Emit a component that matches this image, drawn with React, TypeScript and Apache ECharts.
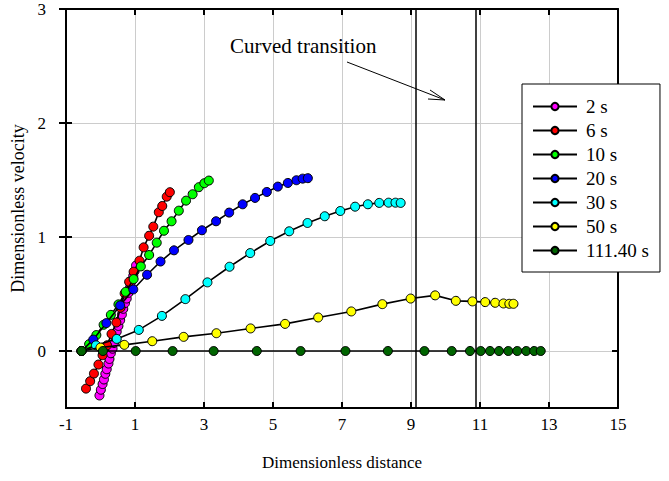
import React, { useEffect, useRef } from "react";
import * as echarts from "echarts";

const xTicks = [-1, 1, 3, 5, 7, 9, 11, 13, 15];
const yTicks = [0, 1, 2, 3];
const transitionLines = [9.13, 10.88];

const seriesNames = ["2 s", "6 s", "10 s", "20 s", "30 s", "50 s", "111.40 s"];
const seriesColors = ["#ff00ff", "#ff0000", "#00ff00", "#0000ff", "#00ffff", "#ffff00", "#006400"];

const s2: [number, number][] = [
  [-0.03, -0.39], [0.01, -0.34], [0.06, -0.29], [0.1, -0.25], [0.14, -0.2], [0.18, -0.16],
  [0.23, -0.11], [0.26, -0.07], [0.3, -0.02], [0.35, 0.02], [0.39, 0.07], [0.43, 0.12],
  [0.47, 0.17], [0.52, 0.22], [0.57, 0.27], [0.62, 0.32], [0.66, 0.37], [0.71, 0.42],
  [0.76, 0.46], [0.81, 0.51], [0.86, 0.56], [0.9, 0.61], [0.95, 0.66], [0.99, 0.7], [1.03, 0.75],
];
const s6: [number, number][] = [
  [-0.42, -0.33], [-0.3, -0.265], [-0.19, -0.198], [-0.06, -0.119], [0.06, -0.037], [0.19, 0.05],
  [0.32, 0.15], [0.46, 0.25], [0.58, 0.38], [0.7, 0.505], [0.83, 0.607], [0.96, 0.695],
  [1.13, 0.792], [1.25, 0.909], [1.41, 1.011], [1.53, 1.091], [1.69, 1.217], [1.79, 1.272],
  [1.92, 1.354], [2.01, 1.393],
];
const s10: [number, number][] = [
  [-0.55, 0], [-0.33, 0.06], [-0.12, 0.14], [0.09, 0.23], [0.3, 0.317], [0.52, 0.409],
  [0.73, 0.519], [0.96, 0.631], [1.17, 0.742], [1.41, 0.842], [1.63, 0.95], [1.84, 1.055],
  [2.06, 1.138], [2.27, 1.231], [2.48, 1.319], [2.67, 1.375], [2.85, 1.437], [3.01, 1.472],
  [3.14, 1.495],
];
const s20: [number, number][] = [
  [-0.55, 0], [-0.21, 0.1], [0.17, 0.245], [0.57, 0.4], [0.95, 0.54], [1.35, 0.669],
  [1.74, 0.785], [2.13, 0.883], [2.55, 0.974], [2.94, 1.059], [3.35, 1.138], [3.73, 1.214],
  [4.12, 1.287], [4.48, 1.343], [4.82, 1.395], [5.14, 1.442], [5.43, 1.474], [5.68, 1.498],
  [5.86, 1.512], [6.01, 1.516],
];
const s30: [number, number][] = [
  [-0.55, 0], [-0.13, 0.05], [0.47, 0.106], [1.11, 0.185], [1.78, 0.308], [2.46, 0.455],
  [3.1, 0.602], [3.74, 0.739], [4.34, 0.859], [4.92, 0.965], [5.47, 1.05], [6.0, 1.123],
  [6.5, 1.182], [6.95, 1.228], [7.38, 1.266], [7.75, 1.287], [8.08, 1.299], [8.35, 1.301],
  [8.55, 1.301], [8.7, 1.299],
];
const s50: [number, number][] = [
  [-0.55, 0], [0.0, 0.03], [0.69, 0.054], [1.5, 0.086], [2.41, 0.124], [3.36, 0.156],
  [4.35, 0.198], [5.35, 0.238], [6.31, 0.294], [7.27, 0.347], [8.17, 0.411], [8.99, 0.46],
  [9.7, 0.488], [10.3, 0.44], [10.78, 0.435], [11.15, 0.429], [11.44, 0.423], [11.68, 0.417],
  [11.85, 0.414], [11.97, 0.414],
];
const s111: [number, number][] = [
  [-0.55, 0], [0.07, 0], [1.02, 0], [2.09, 0], [3.28, 0], [4.53, 0], [5.8, 0], [7.1, 0],
  [8.33, 0], [9.39, 0], [10.18, 0], [10.71, 0], [11.02, 0], [11.29, 0], [11.55, 0],
  [11.82, 0], [12.08, 0], [12.34, 0], [12.57, 0], [12.76, 0],
];
const seriesData = [s2, s6, s10, s20, s30, s50, s111];

const FONT = "'Liberation Serif', 'Times New Roman', 'DejaVu Serif', serif";

export default function App() {
  const ref = useRef<HTMLDivElement>(null);
  useEffect(() => {
    if (!ref.current) return;
    const chart = echarts.init(ref.current, undefined, { renderer: "svg" });
    const series: any[] = seriesData.map((d, i) => ({
      name: seriesNames[i],
      type: "line",
      data: d,
      symbol: "circle",
      symbolSize: 9,
      showSymbol: true,
      lineStyle: { color: "#000", width: 1.6 },
      itemStyle: { color: seriesColors[i], borderColor: "#000", borderWidth: 1 },
      emphasis: { disabled: true },
      z: 3 + i,
    }));
    series.push({
      type: "line",
      data: [],
      silent: true,
      markLine: {
        silent: true,
        symbol: ["none", "none"],
        label: { show: false },
        lineStyle: { color: "#000", width: 1.5, type: "solid" },
        data: transitionLines.map((v) => ({ xAxis: v })),
      },
    });
    const baseX = {
      type: "value",
      min: -1,
      max: 15,
      axisLine: { show: true, onZero: false, lineStyle: { color: "#000", width: 2 } },
      splitLine: { show: false },
    };
    const baseY = {
      type: "value",
      min: -0.5,
      max: 3,
      axisLine: { show: true, onZero: false, lineStyle: { color: "#000", width: 2 } },
      splitLine: { show: false },
    };
    chart.setOption({
      animation: false,
      backgroundColor: "#fff",
      textStyle: { fontFamily: FONT },
      grid: { left: 66, right: 51, top: 9, bottom: 73, containLabel: false },
      xAxis: [
        {
          ...baseX,
          position: "bottom",
          name: "Dimensionless distance",
          nameLocation: "middle",
          nameGap: 46,
          nameTextStyle: { fontFamily: FONT, fontSize: 17, color: "#000" },
          axisTick: { show: true, inside: true, length: 6, customValues: xTicks, lineStyle: { color: "#000", width: 2 } },
          axisLabel: { show: true, customValues: xTicks, fontFamily: FONT, fontSize: 17, color: "#000", margin: 8 },
          splitLine: { show: true, lineStyle: { color: "#cccccc", width: 1 } },
        },
        {
          ...baseX,
          position: "top",
          axisTick: { show: true, inside: true, length: 6, customValues: xTicks, lineStyle: { color: "#000", width: 2 } },
          axisLabel: { show: false },
        },
      ],
      yAxis: [
        {
          ...baseY,
          position: "left",
          name: "Dimensionless velocity",
          nameLocation: "middle",
          nameGap: 36,
          nameTextStyle: { fontFamily: FONT, fontSize: 18, color: "#000" },
          axisTick: { show: true, inside: false, length: 7, customValues: yTicks, lineStyle: { color: "#000", width: 2 } },
          axisLabel: { show: true, customValues: yTicks, fontFamily: FONT, fontSize: 17, color: "#000", margin: 20 },
          splitLine: { show: true, lineStyle: { color: "#cccccc", width: 1 } },
        },
        {
          ...baseY,
          position: "right",
          axisTick: { show: true, inside: true, length: 6, customValues: yTicks, lineStyle: { color: "#000", width: 2 } },
          axisLabel: { show: false },
        },
        {
          ...baseY,
          position: "left",
          axisTick: { show: true, inside: true, length: 6, customValues: yTicks, lineStyle: { color: "#000", width: 2 } },
          axisLabel: { show: false },
        },
      ],
      legend: {
        orient: "vertical",
        left: 522,
        top: 84,
        data: seriesNames,
        itemWidth: 44,
        itemHeight: 9,
        itemGap: 5,
        padding: [13, 11, 12, 10],
        backgroundColor: "#fff",
        borderColor: "#000",
        borderWidth: 1,
        selectedMode: false,
        textStyle: { fontFamily: FONT, fontSize: 19, color: "#000", padding: [0, 0, 0, 4] },
        z: 20,
      },
      graphic: [
        {
          type: "text",
          left: 230,
          top: 35,
          style: { text: "Curved transition", fontFamily: FONT, fontSize: 21, fill: "#000" },
          z: 30,
        },
        {
          type: "line",
          shape: { x1: 347, y1: 62, x2: 445, y2: 100 },
          style: { stroke: "#000", lineWidth: 1 },
          z: 30,
        },
        {
          type: "polyline",
          shape: { points: [[430, 90], [445, 100], [428, 99]] },
          style: { stroke: "#000", lineWidth: 1, fill: "none" },
          z: 30,
        },
      ],
      series,
    });
    return () => chart.dispose();
  }, []);
  return <div ref={ref} style={{ position: "fixed", left: 0, top: 0, width: 669, height: 481 }} />;
}
